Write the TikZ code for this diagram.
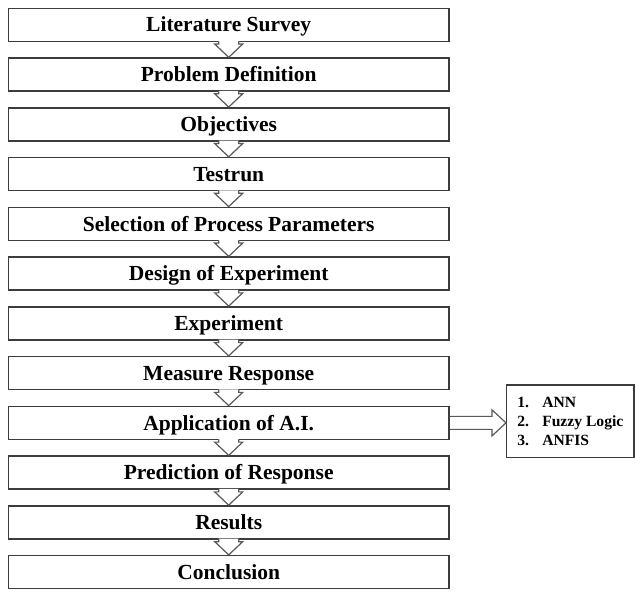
\documentclass[tikz,border=0pt]{standalone}
\usepackage{fontspec}
\setmainfont{Liberation Serif}
\usepackage{xcolor}
\usepackage{tikz}
\usetikzlibrary{positioning, calc}
\definecolor{edgegray}{HTML}{3C3C3C}

\tikzset{
  stage/.style={draw=edgegray, line width=1.5pt, minimum width=440.7pt,
    minimum height=33pt, inner sep=0pt, text height=14.4pt, text depth=0pt,
    font=\fontsize{21.5}{24}\selectfont\bfseries},
  hollow/.style={draw=edgegray!85, line width=1.2pt, line join=miter},
  sidebox/.style={draw=edgegray, line width=1.3pt, minimum width=127.3pt,
    minimum height=72.7pt, inner sep=0pt, align=left,
    font=\fontsize{15.6}{19}\selectfont\bfseries}
}

\begin{document}
\begin{tikzpicture}[x=1pt, y=-1pt]
  \useasboundingbox (0,0) rectangle (636,591);

  % Stages
  \foreach \t [count=\i] in {Literature Survey, Problem Definition, Objectives,
      Testrun, Selection of Process Parameters, Design of Experiment,
      Experiment, Measure Response, Application of A.I.,
      Prediction of Response, Results, Conclusion}
    \node[stage] (s\i) at (228.7, {24.8+49.76*(\i-1)}) {\t};

  % Hollow arrows between stages
  \foreach \i [evaluate=\i as \j using int(\i+1)] in {1,...,11} {
    \fill[white] ($(s\i.south)+(-10,-1)$) -- ($(s\i.south)+(-10,2)$)
      -- ($(s\i.south)+(-14,2)$) -- (s\j.north) -- ($(s\i.south)+(14,2)$)
      -- ($(s\i.south)+(10,2)$) -- ($(s\i.south)+(10,-1)$) -- cycle;
    \draw[hollow] ($(s\i.south)+(-10,-0.7)$) -- ($(s\i.south)+(-10,2)$)
      -- ($(s\i.south)+(-14,2)$) -- (s\j.north) -- ($(s\i.south)+(14,2)$)
      -- ($(s\i.south)+(10,2)$) -- ($(s\i.south)+(10,-0.7)$);
  }

  % Methods of A.I.
  \node[sidebox] (ai) at (570.3,421.3)
    {\makebox[25pt][l]{1.}ANN\\\makebox[25pt][l]{2.}Fuzzy Logic\\\makebox[25pt][l]{3.}ANFIS};

  \draw[hollow] ($(s9.east)+(0,-6.5)$) -- ($(s9.east -| ai.west)+(-14,-6.5)$)
    -- ($(s9.east -| ai.west)+(-14,-13)$) -- (s9.east -| ai.west)
    -- ($(s9.east -| ai.west)+(-14,13)$) -- ($(s9.east -| ai.west)+(-14,6.5)$)
    -- ($(s9.east)+(0,6.5)$);
\end{tikzpicture}
\end{document}
